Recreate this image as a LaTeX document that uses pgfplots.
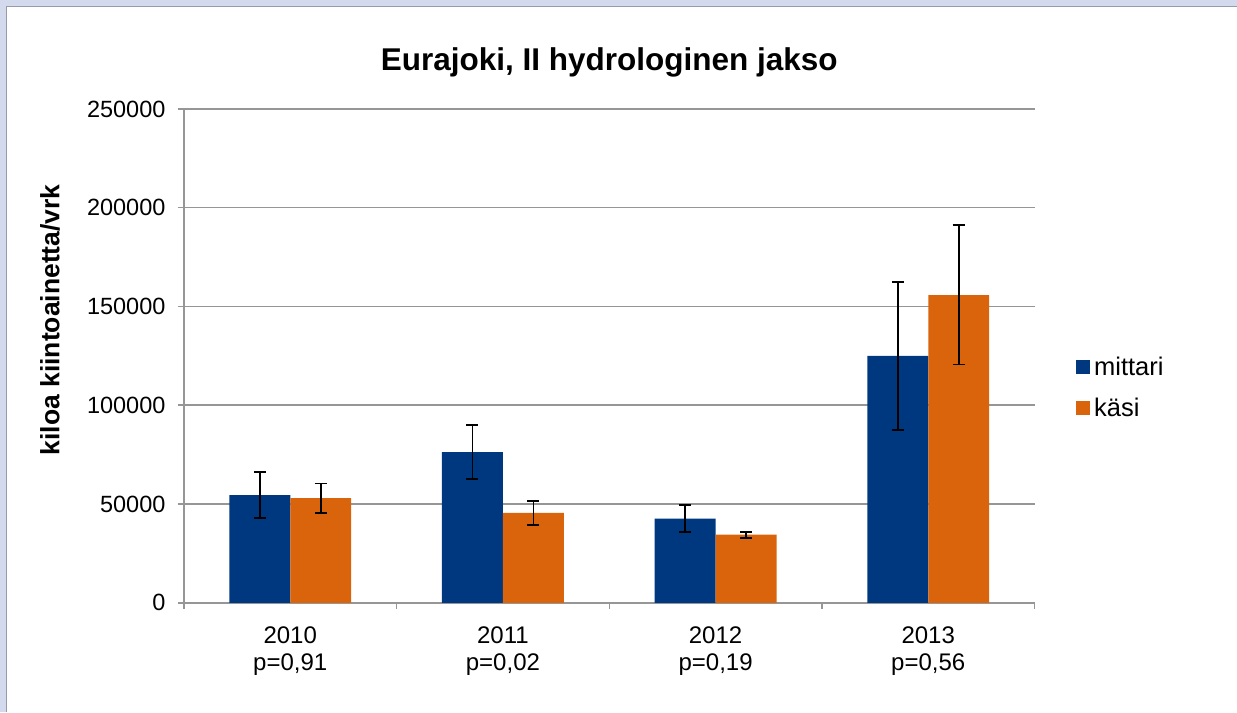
\documentclass[border=0pt]{standalone}
\usepackage{fontspec}
\setmainfont{Liberation Sans}
\usepackage{pgfplots}
\usepackage{pgfplotstable}
\pgfplotsset{compat=1.18}
\definecolor{lav}{RGB}{212,218,238}
\definecolor{framegray}{RGB}{150,155,170}
\definecolor{gridgray}{RGB}{150,150,150}
\definecolor{mblue}{RGB}{0,56,128}
\definecolor{korange}{RGB}{218,100,12}
\pgfplotstableread{
x y ep em
0 54500 11800 11600
1 76300 13600 13500
2 42600 6700 6600
3 125000 37300 37400
}\mittari
\pgfplotstableread{
x y ep em
0 53000 7400 7400
1 45500 6200 6000
2 34500 1500 1700
3 155700 35400 35100
}\kasi
\begin{document}
\begin{tikzpicture}
\fill[lav] (-184pt,-109pt) rectangle (1053pt,603pt);
\fill[white] (-177pt,-109pt) rectangle (1053pt,596pt);
\draw[framegray, line width=1pt] (-177pt,-109pt) -- (-177pt,596pt) -- (1053pt,596pt);
\begin{axis}[
  scale only axis,
  width=851pt, height=494pt,
  ybar=0pt, bar width=61pt,
  xmin=-0.5, xmax=3.5,
  ymin=0, ymax=250000,
  ytick={0,50000,100000,150000,200000,250000},
  scaled y ticks=false,
  /pgf/number format/.cd, fixed, 1000 sep={}, assume math mode=true,
  /pgfplots/.cd,
  axis x line*=bottom, axis y line*=left,
  axis line style={gridgray, line width=1.5pt, -},
  ymajorgrids,
  grid style={gridgray, line width=1.5pt},
  tick align=outside,
  major tick length=6pt,
  tick style={gridgray, line width=1.5pt},
  xtick={-0.5,0.5,1.5,2.5,3.5},
  xticklabels={},
  extra x ticks={0,1,2,3},
  extra x tick labels={{2010\\p=0,91},{2011\\p=0,02},{2012\\p=0,19},{2013\\p=0,56}},
  extra x tick style={major tick length=0pt, grid=none,
     xticklabel style={align=center, font=\fontsize{24}{27}\selectfont, yshift=-20pt}},
  yticklabel style={font=\fontsize{23.5}{28}\selectfont, xshift=-9pt},
  title={Eurajoki, II hydrologinen jakso},
  title style={font=\fontsize{31.5}{36}\selectfont\bfseries, at={(axis description cs:0.5,1)}, anchor=center, yshift=41pt},
  ylabel={kiloa kiintoainetta/vrk},
  ylabel style={font=\fontsize{26.5}{30}\selectfont\bfseries, at={(axis description cs:0,0.573)}, anchor=center, yshift=134pt},
  legend style={at={(axis description cs:1.048,0.435)}, anchor=west, draw=none, fill=none,
     font=\fontsize{25.5}{30}\selectfont, row sep=17pt, inner sep=0pt,
     nodes={inner xsep=4.5pt}},
  legend cell align=left,
  legend image code/.code={\fill[#1, draw=none] (0pt,-7pt) rectangle (14pt,7pt);},
]
\addplot[fill=mblue, draw=none, error bars/.cd, y dir=both, y explicit,
   error bar style={black, line width=1.8pt},
   error mark options={black, rotate=90, mark size=6pt, line width=1.8pt}]
  table[x=x, y=y, y error plus=ep, y error minus=em] {\mittari};
\addplot[fill=korange, draw=none, error bars/.cd, y dir=both, y explicit,
   error bar style={black, line width=1.8pt},
   error mark options={black, rotate=90, mark size=6pt, line width=1.8pt}]
  table[x=x, y=y, y error plus=ep, y error minus=em] {\kasi};
\legend{mittari, käsi}
\end{axis}
\end{tikzpicture}
\end{document}
